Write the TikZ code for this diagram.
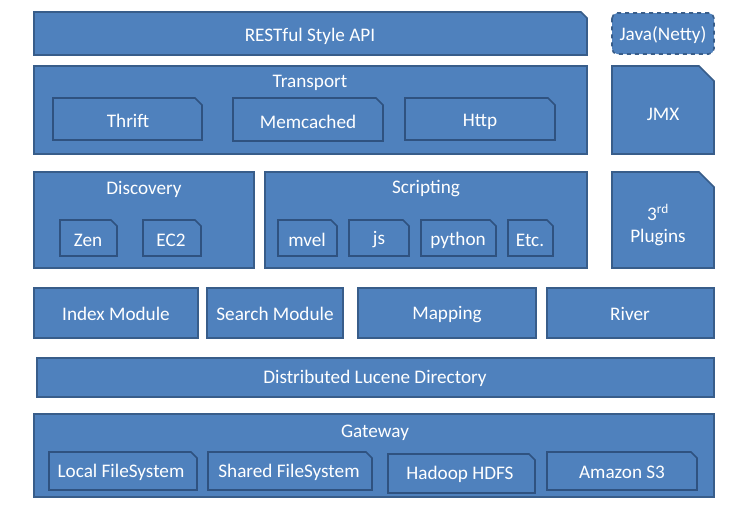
\documentclass[tikz,border=0pt]{standalone}
\usepackage{fontspec}
\setmainfont{Carlito}
\usepackage{tikz}

\definecolor{boxblue}{HTML}{4F81BD}
\definecolor{boxline}{HTML}{385D8A}
\definecolor{subline}{HTML}{2F5280}

% box with the top right corner cut off
\newcommand{\snipbox}[6][]{%
  \draw[blk,#1] (#2,#3) -- (#4-#6,#3) -- (#4,#3+#6) -- (#4,#5) -- (#2,#5) -- cycle;}

\tikzset{
  blk/.style={fill=boxblue, draw=boxline, line width=1.2},
  sub/.style={draw=subline},
  lbl/.style={text=white, font=\fontsize{14.4}{16}\selectfont, inner sep=0.75pt, align=center}
}

\begin{document}
\begin{tikzpicture}[x=0.75pt,y=0.75pt,yscale=-1,xscale=1]
        \useasboundingbox (0,0) rectangle (745,529);
        % top row
        \snipbox{34}{12}{587}{55}{6}
        \draw[blk,dashed,rounded corners=4] (612,13) rectangle (714,54);
        \node[lbl] (rest) at (310,36) {RESTful Style API};
        \node[lbl] (java) at (663,35) {Java(Netty)};
        % transport
        \draw[blk] (34,66) rectangle (587,154);
        \node[lbl] (transport) at (310,83) {Transport};
        \snipbox[sub]{53}{98}{202}{140}{7}
        \snipbox[sub]{233}{98}{383}{141}{7}
        \snipbox[sub]{405}{98}{555}{140}{7}
        \node[lbl] (thrift) at (128,121) {Thrift};
        \node[lbl] (memcached) at (308,122) {Memcached};
        \node[lbl] (http) at (480,122) {Http};
        \snipbox{612}{66}{714}{154}{15}
        \node[lbl] (jmx) at (663,114) {JMX};
        % discovery and scripting
        \draw[blk] (34,172) rectangle (254,268);
        \node[lbl] (discovery) at (144,189) {Discovery};
        \snipbox[sub]{60}{220}{117}{256}{6}
        \snipbox[sub]{143}{220}{201}{256}{6}
        \node[lbl] (zen) at (88,240) {Zen};
        \node[lbl] (ec2) at (171,240) {EC2};
        \draw[blk] (265,172) rectangle (587,268);
        \node[lbl] (scripting) at (426,189) {Scripting};
        \snipbox[sub]{278}{220}{337}{256}{6}
        \snipbox[sub]{349}{220}{409}{256}{6}
        \snipbox[sub]{421}{220}{496}{256}{6}
        \snipbox[sub]{508}{220}{553}{256}{6}
        \node[lbl] (mvel) at (307,240) {mvel};
        \node[lbl] (js) at (379,240) {js};
        \node[lbl] (python) at (458,240) {python};
        \node[lbl] (etc) at (530,240) {Etc.};
        \snipbox{612}{172}{714}{268}{15}
        \node[lbl] (plugins) at (658,225) {3\textsuperscript{rd}\\[1pt]Plugins};
        % modules
        \draw[blk] (34,288) rectangle (198,338);
        \draw[blk] (207,288) rectangle (343,338);
        \draw[blk] (358,288) rectangle (536,338);
        \draw[blk] (547,288) rectangle (714,338);
        \node[lbl] (index) at (116,314) {Index Module};
        \node[lbl] (search) at (275,314) {Search Module};
        \node[lbl] (mapping) at (447,315) {Mapping};
        \node[lbl] (river) at (630,314) {River};
        % lucene directory
        \draw[blk] (37,358) rectangle (714,397);
        \node[lbl] (lucene) at (375,378) {Distributed Lucene Directory};
        % gateway
        \draw[blk] (34,414) rectangle (714,497);
        \node[lbl] (gateway) at (375,433) {Gateway};
        \snipbox[sub]{49}{452}{197}{490}{6}
        \snipbox[sub]{208}{452}{372}{490}{6}
        \snipbox[sub]{388}{454}{535}{493}{6}
        \snipbox[sub]{547}{452}{697}{490}{6}
        \node[lbl] (localfs) at (121,472) {Local FileSystem};
        \node[lbl] (sharedfs) at (289,472) {Shared FileSystem};
        \node[lbl] (hdfs) at (460,474) {Hadoop HDFS};
        \node[lbl] (s3) at (622,472) {Amazon S3};
\end{tikzpicture}
\end{document}
